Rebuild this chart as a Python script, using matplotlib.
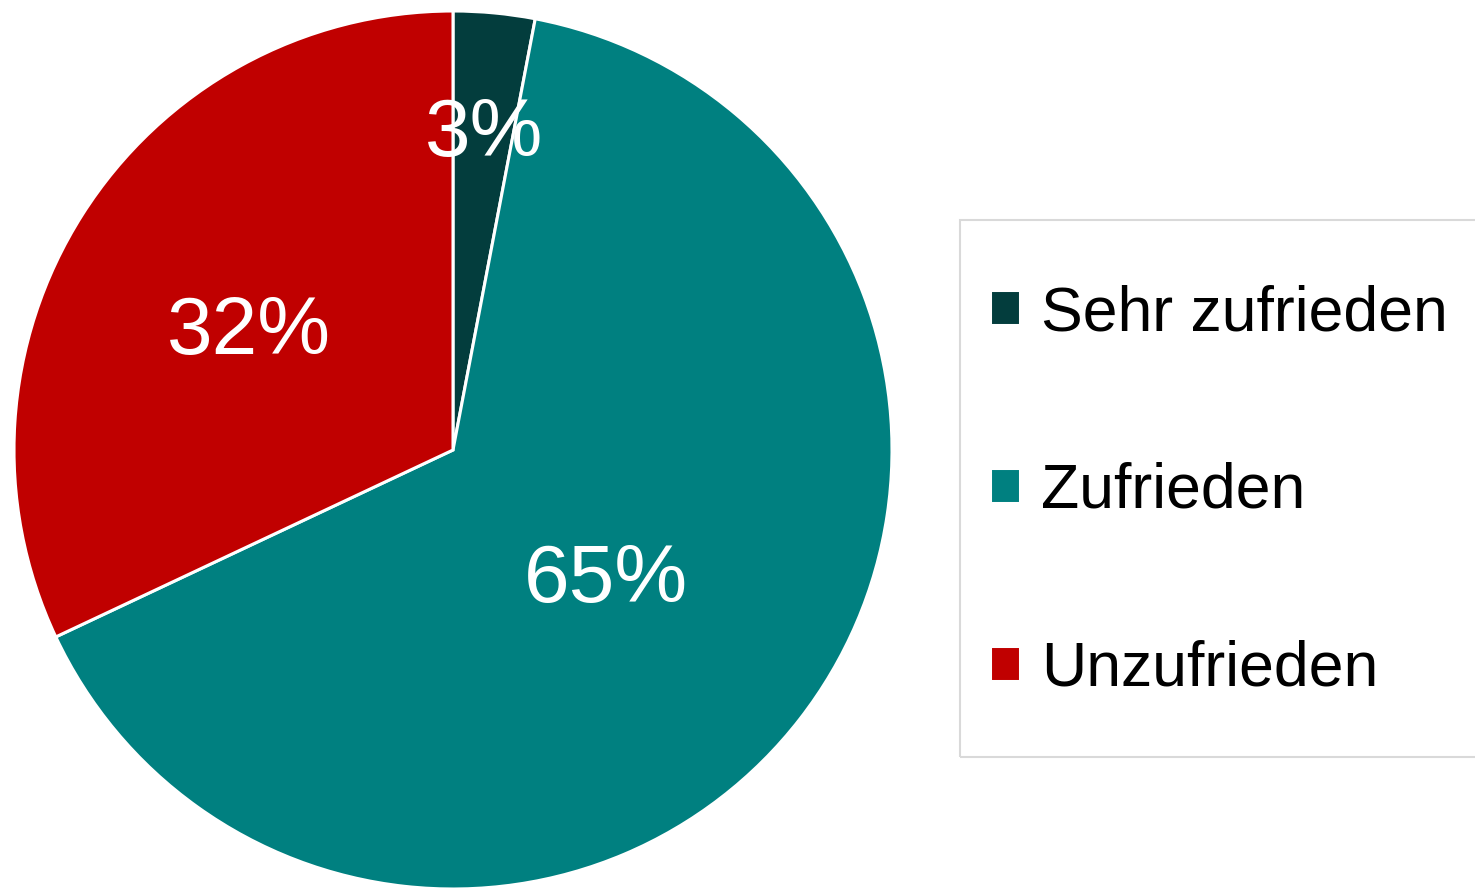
import numpy as np
import matplotlib
matplotlib.use('Agg')
import matplotlib.pyplot as plt
import matplotlib.patches as patches

labels = ['Sehr zufrieden', 'Zufrieden', 'Unzufrieden']
values = [3, 65, 32]
colors = ['#033d3d', '#008080', '#c00000']
label_r = [0.75, 0.44, 0.55]   # where each percentage sits

plt.rcParams['font.family'] = ['Liberation Sans', 'DejaVu Sans']

W, H = 1475, 888
fig = plt.figure(figsize=(W/100, H/100), dpi=100)
R = 439
cx, cy = 453, 888-450
ax = fig.add_axes([(cx-R)/W, (cy-R)/H, 2*R/W, 2*R/H])

wedges, texts, autotexts = ax.pie(values, colors=colors, startangle=90, counterclock=False,
                                  autopct='%1.0f%%', radius=1,
                                  wedgeprops=dict(edgecolor='white', linewidth=2.2),
                                  textprops=dict(color='white', fontsize=59))
for w, t, r in zip(wedges, autotexts, label_r):
    mid = np.deg2rad((w.theta1 + w.theta2)/2)
    t.set_position((r*np.cos(mid), r*np.sin(mid) - 0.028))
    t.set_ha('center'); t.set_va('center')
ax.set_xlim(-1, 1)
ax.set_ylim(-1, 1)
ax.set_aspect('equal')

# legend frame runs off the right edge
fig.patches.append(patches.Rectangle((960/W, 1-757/H), 600/W, 537/H, transform=fig.transFigure,
                                     fill=False, edgecolor='#d9d9d9', linewidth=1.5))
leg = fig.legend(wedges, labels, loc='upper left', bbox_to_anchor=(990/W, 1-284/H),
                 fontsize=45, frameon=False, handlelength=0.48, handleheight=0.48,
                 handletextpad=0.33, labelspacing=1.9, borderpad=0, borderaxespad=0)

fig.savefig('out.png', dpi=100)
